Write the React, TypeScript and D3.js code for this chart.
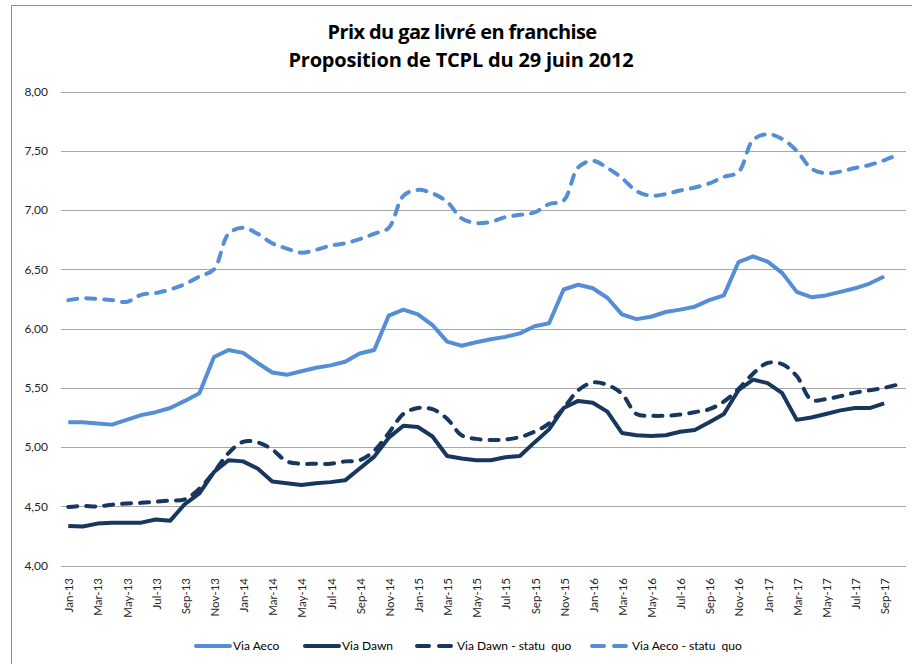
import React from "react";
import * as d3 from "d3";

const months: string[] = [
  "Jan-13","Feb-13","Mar-13","Apr-13","May-13","Jun-13","Jul-13","Aug-13","Sep-13","Oct-13","Nov-13","Dec-13",
  "Jan-14","Feb-14","Mar-14","Apr-14","May-14","Jun-14","Jul-14","Aug-14","Sep-14","Oct-14","Nov-14","Dec-14",
  "Jan-15","Feb-15","Mar-15","Apr-15","May-15","Jun-15","Jul-15","Aug-15","Sep-15","Oct-15","Nov-15","Dec-15",
  "Jan-16","Feb-16","Mar-16","Apr-16","May-16","Jun-16","Jul-16","Aug-16","Sep-16","Oct-16","Nov-16","Dec-16",
  "Jan-17","Feb-17","Mar-17","Apr-17","May-17","Jun-17","Jul-17","Aug-17","Sep-17","Oct-17",
];

const viaAeco: number[] = [
  5.21,5.21,5.20,5.19,5.23,5.27,5.295,5.33,5.39,5.455,5.76,5.82,
  5.795,5.71,5.63,5.61,5.64,5.67,5.69,5.72,5.79,5.82,6.11,6.16,
  6.12,6.03,5.89,5.855,5.885,5.91,5.93,5.96,6.02,6.045,6.33,6.37,
  6.34,6.26,6.12,6.08,6.10,6.14,6.16,6.185,6.24,6.28,6.56,6.61,
  6.565,6.47,6.31,6.265,6.28,6.31,6.34,6.38,6.44,
];

const viaDawn: number[] = [
  4.335,4.33,4.355,4.363,4.363,4.363,4.39,4.38,4.52,4.61,4.79,4.89,
  4.88,4.82,4.71,4.695,4.68,4.695,4.705,4.72,4.82,4.92,5.08,5.18,
  5.17,5.09,4.925,4.905,4.89,4.89,4.915,4.925,5.04,5.15,5.33,5.39,
  5.375,5.30,5.12,5.10,5.095,5.10,5.13,5.145,5.21,5.28,5.48,5.57,
  5.54,5.455,5.23,5.25,5.28,5.31,5.33,5.33,5.37,
];

const viaDawnStatuQuo: number[] = [
  4.495,4.505,4.50,4.515,4.525,4.53,4.54,4.55,4.56,4.65,4.79,4.95,
  5.045,5.04,4.98,4.88,4.86,4.86,4.86,4.88,4.89,4.97,5.12,5.28,
  5.33,5.32,5.24,5.10,5.07,5.06,5.065,5.085,5.13,5.20,5.33,5.48,
  5.545,5.525,5.45,5.28,5.265,5.265,5.275,5.295,5.32,5.385,5.49,5.62,
  5.71,5.70,5.60,5.40,5.405,5.43,5.46,5.48,5.50,5.53,
];

const viaAecoStatuQuo: number[] = [
  6.24,6.255,6.25,6.24,6.225,6.285,6.30,6.33,6.375,6.44,6.50,6.80,
  6.85,6.80,6.72,6.675,6.64,6.665,6.70,6.72,6.755,6.80,6.85,7.12,
  7.17,7.14,7.07,6.93,6.89,6.90,6.94,6.96,6.98,7.05,7.08,7.36,
  7.415,7.355,7.27,7.16,7.12,7.135,7.165,7.19,7.225,7.28,7.32,7.59,
  7.64,7.60,7.50,7.35,7.31,7.325,7.355,7.38,7.42,7.47,
];

const yTicks: number[] = [4, 4.5, 5, 5.5, 6, 6.5, 7, 7.5, 8];

const titleLines: string[] = ["Prix du gaz livré en franchise", "Proposition de TCPL du 29 juin 2012"];

const seriesNames: string[] = ["Via Aeco", "Via Dawn", "Via Dawn - statu  quo", "Via Aeco - statu  quo"];

const LIGHT = "#558ED5";
const DARK = "#17375E";

export default function App() {
  const W = 912;
  const H = 664;
  const x = d3.scaleBand<number>().domain(months.map((_, i) => i)).range([61, 906]).padding(0);
  const y = d3.scaleLinear().domain([4, 8]).range([565.7, 91.5]);
  const cx = (i: number) => (x(i) as number) + x.bandwidth() / 2;

  const straight = d3.line<number>().x((_, i) => cx(i)).y((d) => y(d));
  const smooth = d3
    .line<number>()
    .x((_, i) => cx(i))
    .y((d) => y(d))
    .curve(d3.curveCatmullRom.alpha(0.5));

  const series = [
    { name: seriesNames[0], data: viaAeco, color: LIGHT, dashed: false },
    { name: seriesNames[1], data: viaDawn, color: DARK, dashed: false },
    { name: seriesNames[2], data: viaDawnStatuQuo, color: DARK, dashed: true },
    { name: seriesNames[3], data: viaAecoStatuQuo, color: LIGHT, dashed: true },
  ];

  const drawOrder = [3, 0, 2, 1];
  const legendX = [194, 303, 415, 590];
  const font = "Lato, 'Open Sans', sans-serif";

  return (
    <svg
      width={W}
      height={H}
      style={{ position: "absolute", left: 0, top: 0, background: "#fff" }}
      fontFamily={font}
    >
      <rect x={0} y={0} width={W} height={H} fill="#fff" />
      <rect x={11.5} y={5.5} width={940} height={700} fill="none" stroke="#8c8c8c" strokeWidth={1} />

      {titleLines.map((t, i) => (
        <text
          key={t}
          x={i === 0 ? 462 : 461}
          y={39 + i * 28}
          textAnchor="middle"
          fontSize={20}
          fontWeight="bold"
          fill="#000"
          fontFamily="'Open Sans', Lato, sans-serif"
          letterSpacing={i === 0 ? -0.6 : -0.2}
        >
          {t}
        </text>
      ))}

      {yTicks.map((t) => (
        <g key={t}>
          <line x1={61} x2={906} y1={Math.round(y(t)) + 0.5} y2={Math.round(y(t)) + 0.5} stroke="#a6a6a6" strokeWidth={1} />
          <text x={48} y={y(t)} dy="0.35em" textAnchor="end" fontSize={12} fill="#262626">
            {d3.format(".2f")(t).replace(".", ",")}
          </text>
        </g>
      ))}

      {months.map((m, i) =>
        i % 2 === 0 ? (
          <text
            key={m}
            transform={`translate(${cx(i) + 1},578) rotate(-90)`}
            textAnchor="end"
            dy="0.35em"
            fontSize={11.5}
            fill="#262626"
          >
            {m}
          </text>
        ) : null
      )}

      {drawOrder.map((k) => {
        const s = series[k];
        const gen = s.dashed ? smooth : straight;
        return (
          <path
            key={s.name}
            d={gen(s.data) || ""}
            fill="none"
            stroke={s.color}
            strokeWidth={4}
            strokeLinejoin="round"
            strokeLinecap={s.dashed ? "round" : "butt"}
            strokeDasharray={s.dashed ? "9 9" : undefined}
          />
        );
      })}

      {series.map((s, i) => (
        <g key={s.name}>
          <line
            x1={legendX[i] + 2}
            x2={legendX[i] + 36}
            y1={646}
            y2={646}
            stroke={s.color}
            strokeWidth={4}
            strokeLinecap="round"
            strokeDasharray={s.dashed ? "12 10" : undefined}
          />
          <text
            x={legendX[i] + (s.dashed ? 42 : 39)}
            y={646}
            dy="0.35em"
            fontSize={12}
            fill="#000"
            style={{ whiteSpace: "pre" }}
          >
            {s.name}
          </text>
        </g>
      ))}
    </svg>
  );
}
